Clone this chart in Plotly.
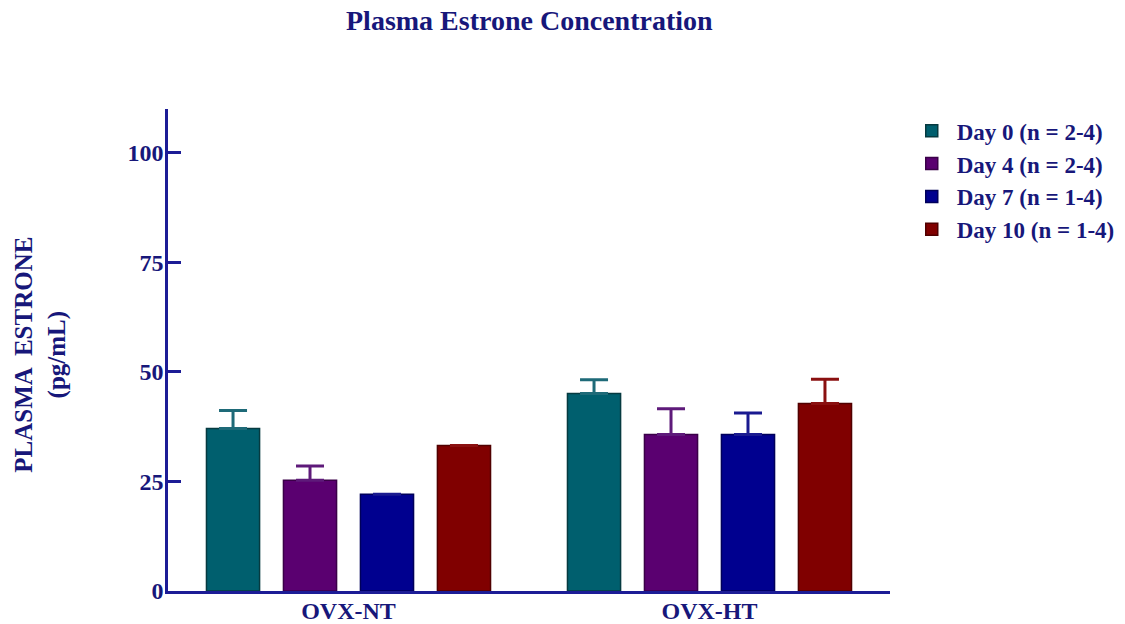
import plotly.graph_objects as go

categories = ["OVX-NT", "OVX-HT"]
series_names = ["Day 0 (n = 2-4)", "Day 4 (n = 2-4)", "Day 7 (n = 1-4)", "Day 10 (n = 1-4)"]
day0 = [37.1, 45.1]
day4 = [25.3, 35.7]
day7 = [22.1, 35.7]
day10 = [33.2, 42.8]
err0 = [4.1, 3.1]
err4 = [3.2, 5.9]
err7 = [None, 4.9]
err10 = [None, 5.5]
y_ticks = [0, 25, 50, 75, 100]

values = [day0, day4, day7, day10]
errors = [err0, err4, err7, err10]
colors = ["#005f6e", "#5a0070", "#00008f", "#800000"]
line_colors = ["#063a40", "#3a0048", "#00005a", "#500000"]
err_colors = ["#1e6a78", "#5e1a7a", "#1a1a90", "#8a1010"]

NAVY = "#1c1c96"
TEXT = "#17177a"
FONT = "Liberation Serif, Times New Roman, serif"

fig = go.Figure()
for name, vals, errs, c, lc, ec in zip(series_names, values, errors, colors, line_colors, err_colors):
    fig.add_trace(go.Bar(
        x=categories, y=vals, name=name,
        marker=dict(color=c, line=dict(color=lc, width=1.5)),
        error_y=dict(type="data", array=errs, arrayminus=[0, 0], symmetric=False,
                     color=ec, thickness=3, width=14, visible=True),
    ))

fig.update_layout(
    width=1125, height=624,
    margin=dict(l=168, r=235, t=109, b=33),
    paper_bgcolor="white", plot_bgcolor="white",
    barmode="group", bargap=0.147, bargroupgap=0.31,
    font=dict(family=FONT, color=TEXT, size=22, weight="bold"),
    showlegend=True,
    legend=dict(xref="container", yref="container", x=0.806, y=0.825,
                xanchor="left", yanchor="top",
                font=dict(family=FONT, size=23, color=TEXT, weight="bold"),
                bgcolor="rgba(0,0,0,0)", tracegroupgap=0, itemwidth=40),
    annotations=[
        dict(text="Plasma Estrone Concentration", xref="paper", yref="paper",
             x=0.5, y=1, yshift=89, xanchor="center", yanchor="middle", showarrow=False,
             font=dict(family=FONT, size=28, color=TEXT, weight="bold")),
        dict(text="PLASMA  ESTRONE<br>(pg/mL)", xref="paper", yref="paper",
             x=-0.176, y=0.49, xanchor="center", yanchor="middle", showarrow=False,
             textangle=-90,
             font=dict(family=FONT, size=25, color=TEXT, weight="bold")),
    ],
)

fig.update_xaxes(showline=True, linecolor=NAVY, linewidth=2.5, ticks="",
                 showgrid=False, zeroline=False, automargin=False,
                 ticklabelstandoff=-4,
                 tickfont=dict(family=FONT, size=24, color=TEXT, weight="bold"))
fig.update_yaxes(range=[0, 110], tickvals=y_ticks, ticktext=[str(v) for v in y_ticks],
                 showline=True, linecolor=NAVY, linewidth=2.5,
                 ticks="inside", ticklen=13, tickwidth=2.5, tickcolor=NAVY,
                 showgrid=False, zeroline=False, automargin=False,
                 ticklabelstandoff=-3,
                 tickfont=dict(family=FONT, size=24, color=TEXT, weight="bold"))

fig.write_html("out.html")
